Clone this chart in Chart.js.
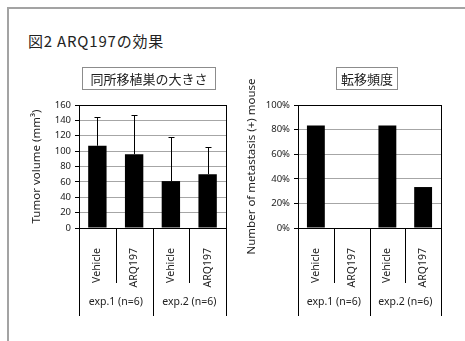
<!DOCTYPE html>
<html>
<head>
<meta charset="utf-8">
<script src="https://cdn.jsdelivr.net/npm/chart.js@4.4.1/dist/chart.umd.min.js"></script>
<style>
  body { margin: 0; width: 465px; height: 341px; overflow: hidden; background: #fff; position: relative; font-family: "Noto Sans CJK JP", sans-serif; }
  .frame { position: absolute; left: 7px; top: 7px; width: 500px; height: 400px; border-top: 2px solid #a3a3a3; border-left: 2px solid #a3a3a3; }
  .title { position: absolute; left: 28px; top: 30px; font-size: 15px; letter-spacing: 0.8px; color: #222; white-space: nowrap; }
  .box { position: absolute; top: 67px; height: 21px; border: 1px solid #8c8c8c; font-size: 13px; line-height: 21px; text-align: center; color: #222; background: #fff; white-space: nowrap; }
  canvas { position: absolute; }
</style>
</head>
<body>
<div class="frame"></div>
<canvas id="volumeChart" width="215" height="270" style="left:20px;top:60px"></canvas>
<canvas id="metaChart" width="212" height="270" style="left:238px;top:60px"></canvas>
<div class="title">図2 ARQ197の効果</div>
<div class="box" style="left:82px;width:132px">同所移植巣の大きさ</div>
<div class="box" style="left:336px;width:60px">転移頻度</div>
<script>
const categories = ["Vehicle", "ARQ197", "Vehicle", "ARQ197"];
const groups = ["exp.1 (n=6)", "exp.2 (n=6)"];
const tumorVolume = [107, 96, 61, 70];
const tumorSD = [37, 51, 57, 36];
const metastasisRate = [83.3, 0, 83.3, 33.3];
const volumeTicks = [0, 20, 40, 60, 80, 100, 120, 140, 160];
const rateTicks = [0, 20, 40, 60, 80, 100];

const tickFont = { family: "Noto Sans", size: 9.5 };
const catFont = { family: "Noto Sans", size: 10.5 };

// box round plot, group dividers under the axis, error bars
const extrasPlugin = {
  id: "extras",
  afterDatasetsDraw(chart) {
    const { ctx, chartArea, scales } = chart;
    const x = scales.x, y = scales.y;
    ctx.save();
    ctx.strokeStyle = "#000";
    ctx.lineWidth = 1;

    // error bars (upper only)
    const sd = chart.options.plugins.extras.sd;
    if (sd) {
      const meta = chart.getDatasetMeta(0);
      meta.data.forEach((bar, i) => {
        const top = Math.round(y.getPixelForValue(chart.data.datasets[0].data[i] + sd[i])) + 0.5;
        const cx = Math.round(bar.x) + 0.5;
        ctx.beginPath();
        ctx.moveTo(cx, bar.y);
        ctx.lineTo(cx, top);
        ctx.moveTo(cx - 3, top);
        ctx.lineTo(cx + 3, top);
        ctx.stroke();
      });
    }

    // top and right edges of the plot
    ctx.beginPath();
    ctx.moveTo(chartArea.left, Math.round(chartArea.top) + 0.5);
    ctx.lineTo(chartArea.right, Math.round(chartArea.top) + 0.5);
    ctx.moveTo(Math.round(chartArea.right) + 0.5, chartArea.top);
    ctx.lineTo(Math.round(chartArea.right) + 0.5, chartArea.bottom);
    ctx.stroke();

    // category dividers
    const n = categories.length;
    const step = (chartArea.right - chartArea.left) / n;
    const shortEnd = chartArea.bottom + 55;
    const longEnd = x.bottom;
    for (let i = 0; i <= n; i++) {
      const px = Math.round(chartArea.left + i * step) + 0.5;
      ctx.beginPath();
      ctx.moveTo(px, chartArea.bottom);
      ctx.lineTo(px, i % 2 === 0 ? longEnd : shortEnd);
      ctx.stroke();
    }

    // group labels
    ctx.fillStyle = "#222";
    ctx.font = catFont.size + "px " + catFont.family;
    ctx.textAlign = "center";
    ctx.textBaseline = "middle";
    groups.forEach((g, gi) => {
      const cx = chartArea.left + (gi * 2 + 1) * step;
      ctx.fillText(g, cx, chartArea.bottom + 74);
    });
    ctx.restore();
  }
};

function makeChart(id, values, ticks, yTitle, opts) {
  return new Chart(document.getElementById(id), {
    type: "bar",
    data: {
      labels: categories,
      datasets: [{
        data: values,
        backgroundColor: "#000",
        borderWidth: 0,
        barPercentage: 0.5,
        categoryPercentage: 1
      }]
    },
    options: {
      responsive: false,
      animation: false,
      layout: { padding: { top: 45, right: 9, bottom: 14, left: 0 } },
      plugins: {
        legend: { display: false },
        tooltip: { enabled: false },
        extras: { sd: opts.sd }
      },
      scales: {
        x: {
          grid: { display: false },
          border: { display: true, color: "#000", width: 1 },
          ticks: { color: "#222", font: catFont, minRotation: 90, maxRotation: 90, padding: 12, autoSkip: false },
          afterFit(s) { s.height = 88; }
        },
        y: {
          min: ticks[0],
          max: ticks[ticks.length - 1],
          afterBuildTicks(s) { s.ticks = ticks.map(v => ({ value: v })); },
          grid: { color: "#a6a6a6", lineWidth: 1, tickColor: "#000", tickLength: 4 },
          border: { display: true, color: "#000", width: 1 },
          ticks: { color: "#222", font: tickFont, padding: 4, callback: opts.fmt },
          title: { display: true, text: yTitle, color: "#222", font: { family: "Noto Sans", size: 11.5 }, padding: { top: opts.titlePad, bottom: 0 } },
          afterFit(s) { s.width = opts.axisWidth; }
        }
      }
    },
    plugins: [extrasPlugin]
  });
}

makeChart("volumeChart", tumorVolume, volumeTicks, "Tumor volume (mm³)",
  { sd: tumorSD, fmt: v => v, titlePad: 10, axisWidth: 59 });
makeChart("metaChart", metastasisRate, rateTicks, "Number of metastasis (+) mouse",
  { sd: null, fmt: v => v + "%", titlePad: 7, axisWidth: 60 });
</script>
</body>
</html>
